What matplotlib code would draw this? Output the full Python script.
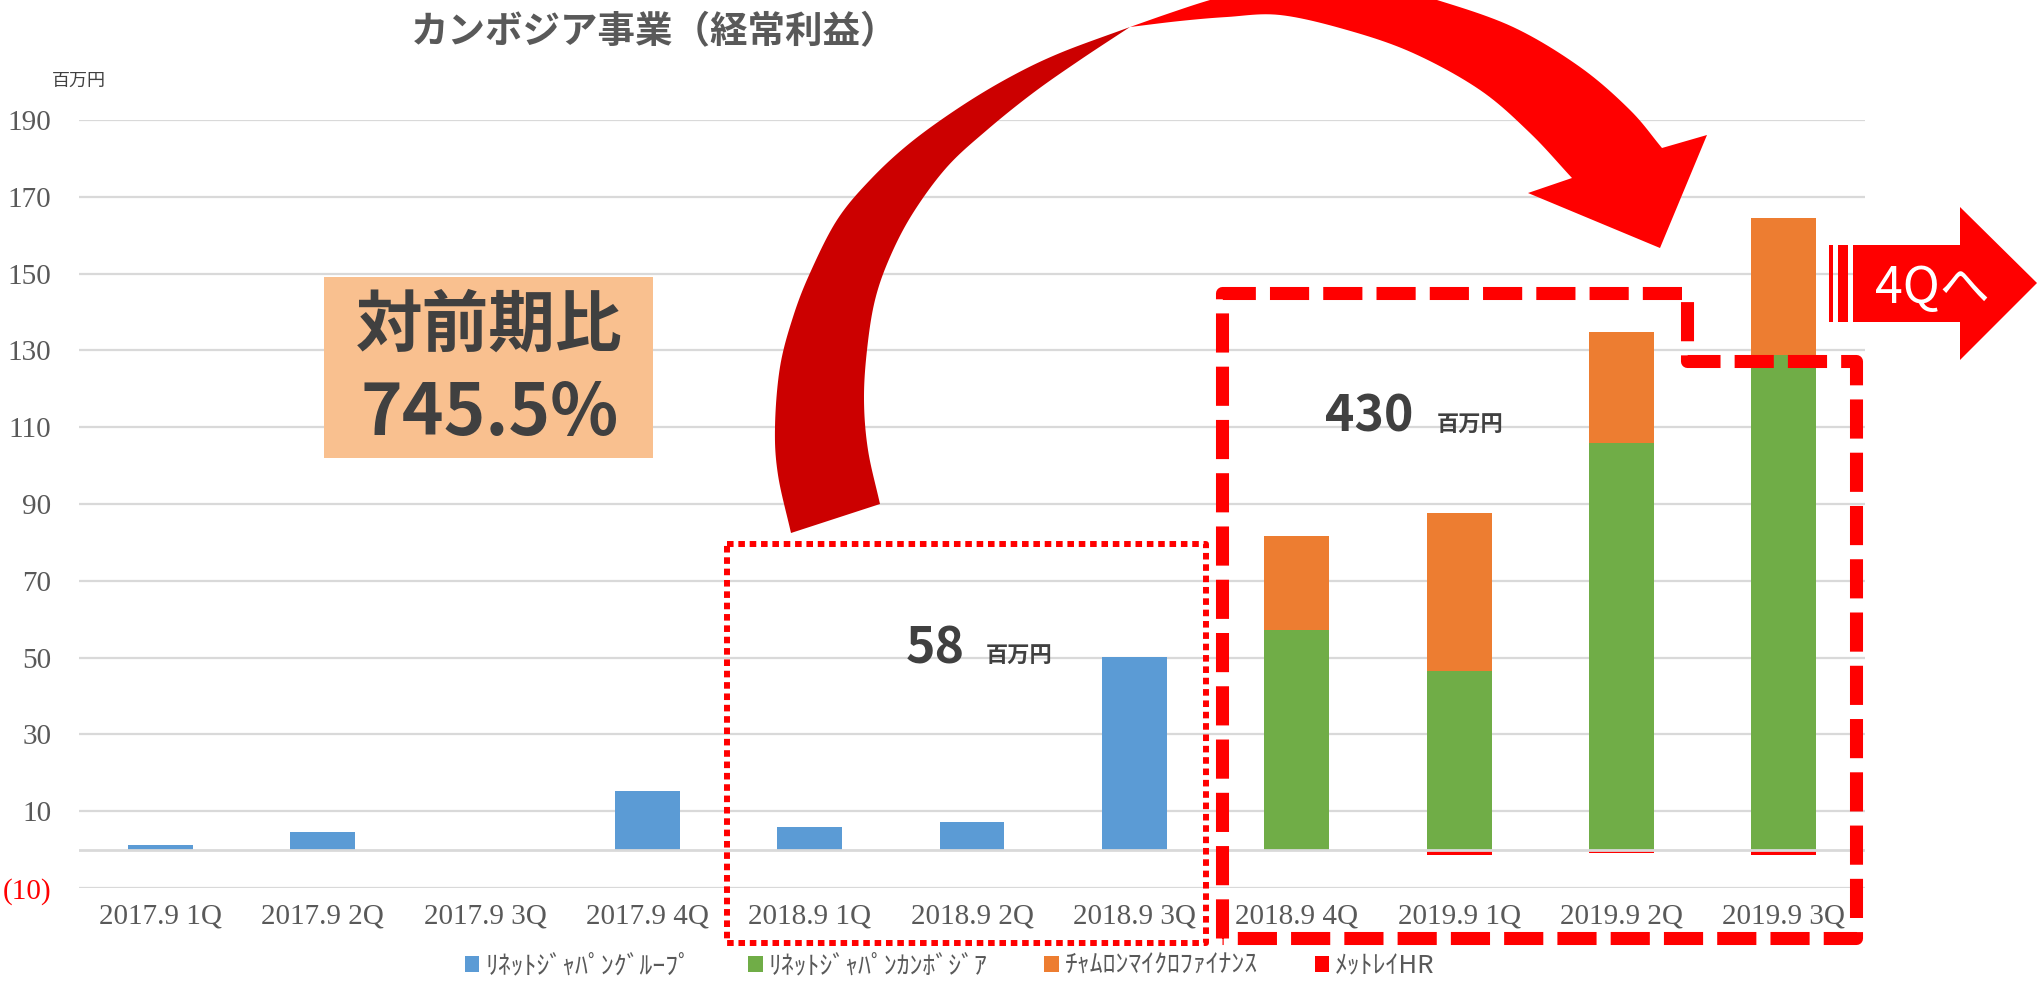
import numpy as np
import matplotlib
matplotlib.use("Agg")
import matplotlib.pyplot as plt
from matplotlib.patches import Polygon, Rectangle
from matplotlib.lines import Line2D

W, H = 2042, 984

quarters = ["2017.9 1Q", "2017.9 2Q", "2017.9 3Q", "2017.9 4Q",
            "2018.9 1Q", "2018.9 2Q", "2018.9 3Q", "2018.9 4Q",
            "2019.9 1Q", "2019.9 2Q", "2019.9 3Q"]
group_jp = [1.2, 4.6, 0, 15.3, 5.9, 7.2, 50.1, 0, 0, 0, 0]
cambodia = [0, 0, 0, 0, 0, 0, 0, 57.2, 46.6, 105.9, 128.8]
chamroeun = [0, 0, 0, 0, 0, 0, 0, 24.4, 41.0, 29.0, 35.6]
metrei_hr = [0, 0, 0, 0, 0, 0, 0, 0, -1.4, -0.9, -1.4]
series_names = ["ﾘﾈｯﾄｼﾞｬﾊﾟﾝｸﾞﾙｰﾌﾟ", "ﾘﾈｯﾄｼﾞｬﾊﾟﾝｶﾝﾎﾞｼﾞｱ",
                "ﾁｬﾑﾛﾝﾏｲｸﾛﾌｧｲﾅﾝｽ", "ﾒｯﾄﾚｲHR"]
series_colors = ["#5B9BD5", "#70AD47", "#ED7D31", "#FF0000"]
y_ticks = [-10, 10, 30, 50, 70, 90, 110, 130, 150, 170, 190]

JP = "Noto Sans CJK JP"
SERIF = "Liberation Serif"
GREY = "#595959"
DARK = "#404040"


def fx(x, y):
    # pixel position (from top-left) -> figure fraction
    return x / W, 1 - y / H


def smooth(pts, n=12):
    p = np.asarray(pts, float)
    p = np.vstack([2 * p[0] - p[1], p, 2 * p[-1] - p[-2]])
    out = []
    for i in range(1, len(p) - 2):
        p0, p1, p2, p3 = p[i - 1], p[i], p[i + 1], p[i + 2]
        for t in np.linspace(0, 1, n, endpoint=False):
            out.append(0.5 * (2 * p1 + (-p0 + p2) * t
                              + (2 * p0 - 5 * p1 + 4 * p2 - p3) * t ** 2
                              + (-p0 + 3 * p1 - 3 * p2 + p3) * t ** 3))
    out.append(p[-2])
    return np.array(out)


def to_fig(arr):
    arr = np.asarray(arr, float)
    return np.column_stack([arr[:, 0] / W, 1 - arr[:, 1] / H])


fig = plt.figure(figsize=(W / 100, H / 100), dpi=100)
ax = fig.add_axes([79 / W, 1 - 888 / H, (1865 - 79) / W, (888 - 120) / H])

x = np.arange(len(quarters))
bw = 0.4
b1 = ax.bar(x, group_jp, bw, color=series_colors[0], label=series_names[0], zorder=2)
b2 = ax.bar(x, cambodia, bw, color=series_colors[1], label=series_names[1], zorder=2)
b3 = ax.bar(x, chamroeun, bw, bottom=cambodia, color=series_colors[2], label=series_names[2], zorder=2)
b4 = ax.bar(x, metrei_hr, bw, color=series_colors[3], label=series_names[3], zorder=2)

ax.set_xlim(-0.5, len(quarters) - 0.5)
ax.set_ylim(-10, 190)
ax.set_yticks(y_ticks)
ax.set_yticklabels([f"({abs(v)})" if v < 0 else str(v) for v in y_ticks])
ax.set_xticks(x)
ax.set_xticklabels(quarters)
for lab, v in zip(ax.get_yticklabels(), y_ticks):
    lab.set_color("#FF0000" if v < 0 else GREY)
for lab in ax.get_xticklabels():
    lab.set_color(GREY)
for lab in ax.get_xticklabels() + ax.get_yticklabels():
    lab.set_fontfamily(SERIF)
    lab.set_fontsize(21)
ax.tick_params(axis="both", length=0)
ax.tick_params(axis="x", pad=11)
ax.tick_params(axis="y", pad=20)
for s in ax.spines.values():
    s.set_visible(False)
ax.yaxis.grid(True, color="#D9D9D9", linewidth=1.6)
ax.set_axisbelow(True)
ax.axhline(0, color="#D9D9D9", linewidth=2.0, zorder=3)

# title and unit
fig.text(*fx(655, 32), "カンボジア事業（経常利益）", fontsize=27, fontweight="bold",
         color=GREY, family=JP, ha="center", va="center")
fig.text(*fx(52, 81), "百万円", fontsize=13, color=DARK, family=JP, ha="left", va="center")

# legend
leg = fig.legend(handles=[b1, b2, b3, b4], labels=series_names, loc="center",
                 bbox_to_anchor=fx(950, 966), ncol=4, frameon=False,
                 handlelength=0.55, handleheight=0.55, handletextpad=0.25,
                 columnspacing=2.2, prop={"family": JP, "size": 18.5})
for t in leg.get_texts():
    t.set_color(GREY)

# orange ratio box
fig.add_artist(Rectangle(fx(324, 458), (653 - 324) / W, (458 - 277) / H,
                         transform=fig.transFigure, facecolor="#F9C08F",
                         edgecolor="none", zorder=4))
fig.text(*fx(489, 326), "対前期比", fontsize=48, fontweight="bold", color=DARK,
         family=JP, ha="center", va="center", zorder=5)
fig.text(*fx(490, 435), "745.5%", fontsize=51, fontweight="bold", color=DARK,
         family=JP, ha="center", va="baseline", zorder=5)

# dotted box around FY2018 1Q-3Q
dx = np.array([727, 1206, 1206, 727, 727]) / W
dy = 1 - np.array([544, 544, 943, 943, 544]) / H
fig.add_artist(Line2D(dx, dy, transform=fig.transFigure, color="#FF0000",
                      linewidth=4.3, linestyle=(0, (1.1, 0.8)),
                      dash_capstyle="butt", zorder=4))
fig.text(*fx(906, 663), "58", fontsize=36, fontweight="bold", color=DARK,
         family=JP, ha="left", va="baseline", zorder=5)
fig.text(*fx(986, 663), "百万円", fontsize=16, fontweight="bold", color=DARK,
         family=JP, ha="left", va="baseline", zorder=5)

# dashed box around FY2018 4Q - FY2019 3Q
qx = np.array([1222, 1222, 1687, 1687, 1856, 1856, 1222]) / W
qy = 1 - np.array([938, 293, 293, 361, 361, 938, 938]) / H
fig.add_artist(Line2D(qx, qy, transform=fig.transFigure, color="#FF0000",
                      linewidth=9.4, linestyle=(0, (3.0, 1.08)),
                      dash_capstyle="butt", solid_joinstyle="miter", zorder=4))
fig.text(*fx(1325, 432), "430", fontsize=36, fontweight="bold", color=DARK,
         family=JP, ha="left", va="baseline", zorder=5)
fig.text(*fx(1437, 432), "百万円", fontsize=16, fontweight="bold", color=DARK,
         family=JP, ha="left", va="baseline", zorder=5)

# big curved arrow: dark back part and bright front part
dark_outer = [(791, 533), (778, 475), (775, 427), (780, 367), (793, 317), (810, 273),
              (837, 220), (870, 180), (910, 143), (960, 107), (1010, 77), (1060, 53),
              (1130, 27)]
dark_inner = [(880, 504), (868, 450), (864, 400), (867, 350), (875, 300), (890, 257),
              (913, 213), (947, 167), (987, 130), (1033, 93), (1080, 60), (1130, 27)]
dark_poly = np.vstack([smooth(dark_outer), smooth(dark_inner)[::-1]])
fig.add_artist(Polygon(to_fig(dark_poly), closed=True, transform=fig.transFigure,
                       facecolor="#CC0000", edgecolor="none", zorder=6))

front_upper = [(1130, 27), (1170, 13), (1210, 0), (1265, -15), (1325, -20), (1385, -13),
               (1437, 0), (1513, 27), (1580, 67), (1630, 110), (1662, 148)]
front_lower = [(1130, 27), (1180, 21), (1227, 17), (1280, 15), (1347, 30), (1413, 53),
               (1480, 90), (1530, 133), (1572, 178)]
head = [(1707, 135), (1660, 248), (1528, 193)]
front_poly = np.vstack([smooth(front_upper), head, smooth(front_lower)[::-1]])
fig.add_artist(Polygon(to_fig(front_poly), closed=True, transform=fig.transFigure,
                       facecolor="#FF0000", edgecolor="none", zorder=6))

# "4Qへ" block arrow
block = [(1853, 245), (1960, 245), (1960, 207), (2037, 283), (1960, 360),
         (1960, 322), (1853, 322)]
fig.add_artist(Polygon(to_fig(block), closed=True, transform=fig.transFigure,
                       facecolor="#FF0000", edgecolor="none", zorder=6))
for x0, x1 in [(1829, 1833), (1838, 1848)]:
    fig.add_artist(Rectangle(fx(x0, 322), (x1 - x0) / W, (322 - 245) / H,
                             transform=fig.transFigure, facecolor="#FF0000",
                             edgecolor="none", zorder=6))
fig.text(*fx(1875, 303), "4Qへ", fontsize=36, color="white", family=JP,
         ha="left", va="baseline", zorder=7)

fig.savefig("out.png", dpi=100)
